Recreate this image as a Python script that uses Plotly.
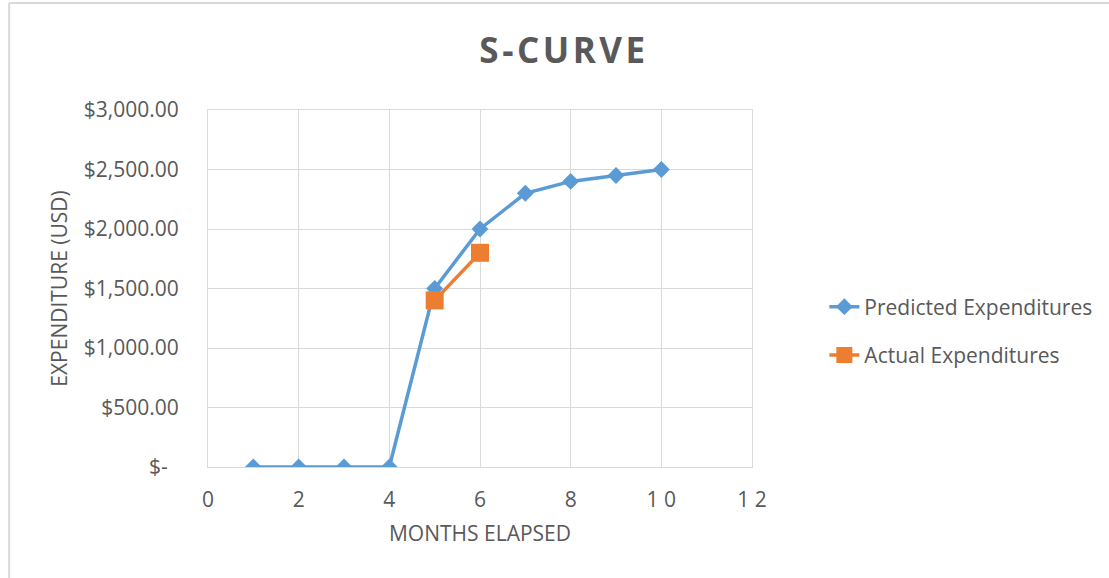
import plotly.graph_objects as go

months = [1, 2, 3, 4, 5, 6, 7, 8, 9, 10]
predicted = [0, 0, 0, 0, 1500, 2000, 2300, 2400, 2450, 2500]
actual_months = [5, 6]
actual = [1400, 1800]

x_tickvals = [0, 2, 4, 6, 8, 10, 12]
x_ticktext = ["0", "2", "4", "6", "8", "1 0", "1 2"]
y_tickvals = [0, 500, 1000, 1500, 2000, 2500, 3000]
y_ticktext = ["$-\u00a0\u00a0", "$500.00", "$1,000.00", "$1,500.00", "$2,000.00", "$2,500.00", "$3,000.00"]

FONT = "Open Sans"
GRAY = "#595959"
GRID = "#d9d9d9"
FS = 21

fig = go.Figure()
fig.add_trace(go.Scatter(
    x=months, y=predicted, name="Predicted Expenditures", mode="lines+markers",
    legendgroup="p",
    line=dict(color="#5B9BD5", width=3.5),
    marker=dict(symbol="diamond", size=13, color="#5B9BD5"),
))
fig.add_trace(go.Scatter(
    x=actual_months, y=actual, name="Actual Expenditures", mode="lines+markers",
    legendgroup="a",
    line=dict(color="#ED7D31", width=3.5),
    marker=dict(symbol="square", size=18, color="#ED7D31"),
))

fig.update_layout(
    width=1109, height=578,
    margin=dict(l=208, r=354, t=110, b=111),
    paper_bgcolor="white", plot_bgcolor="white",
    font=dict(family=FONT, color=GRAY),
    title=dict(text="<b>S\u200a-\u200aC\u200aU\u200aR\u200aV\u200aE</b>", x=0.507, xanchor="center",
               xref="container", yref="container",
               y=0.9126, yanchor="middle", font=dict(size=35, color=GRAY, family=FONT)),
    showlegend=True,
    legend=dict(x=1.133, y=0.381, xanchor="left", yanchor="middle",
                font=dict(size=FS, color=GRAY, family=FONT), tracegroupgap=18,
                bgcolor="rgba(0,0,0,0)"),
    xaxis=dict(range=[0, 12], tickvals=x_tickvals, ticktext=x_ticktext,
               showgrid=True, gridcolor=GRID, gridwidth=1, zeroline=False,
               showline=True, linecolor=GRID, mirror=True, ticks="",
               tickfont=dict(size=FS, color=GRAY), ticklabelstandoff=14,
               title=dict(text="MONTHS ELAPSED", font=dict(size=FS, color=GRAY), standoff=14)),
    yaxis=dict(range=[0, 3000], tickvals=y_tickvals, ticktext=y_ticktext,
               showgrid=True, gridcolor=GRID, gridwidth=1, zeroline=False,
               showline=True, linecolor=GRID, mirror=True, ticks="",
               tickfont=dict(size=FS, color=GRAY), ticklabelstandoff=24,
               title=dict(text="EXPENDITURE (USD)", font=dict(size=FS, color=GRAY), standoff=10)),
    shapes=[
        dict(type="line", xref="paper", yref="paper", x0=-0.3656, x1=1.7, y0=1.2997, y1=1.2997,
             line=dict(color=GRID, width=2)),
        dict(type="line", xref="paper", yref="paper", x0=-0.3656, x1=-0.3656, y0=-0.35, y1=1.2997,
             line=dict(color=GRID, width=2)),
    ],
)

fig.write_html("out.html", config={"displayModeBar": False},
               post_script="document.body.style.margin='0';")
